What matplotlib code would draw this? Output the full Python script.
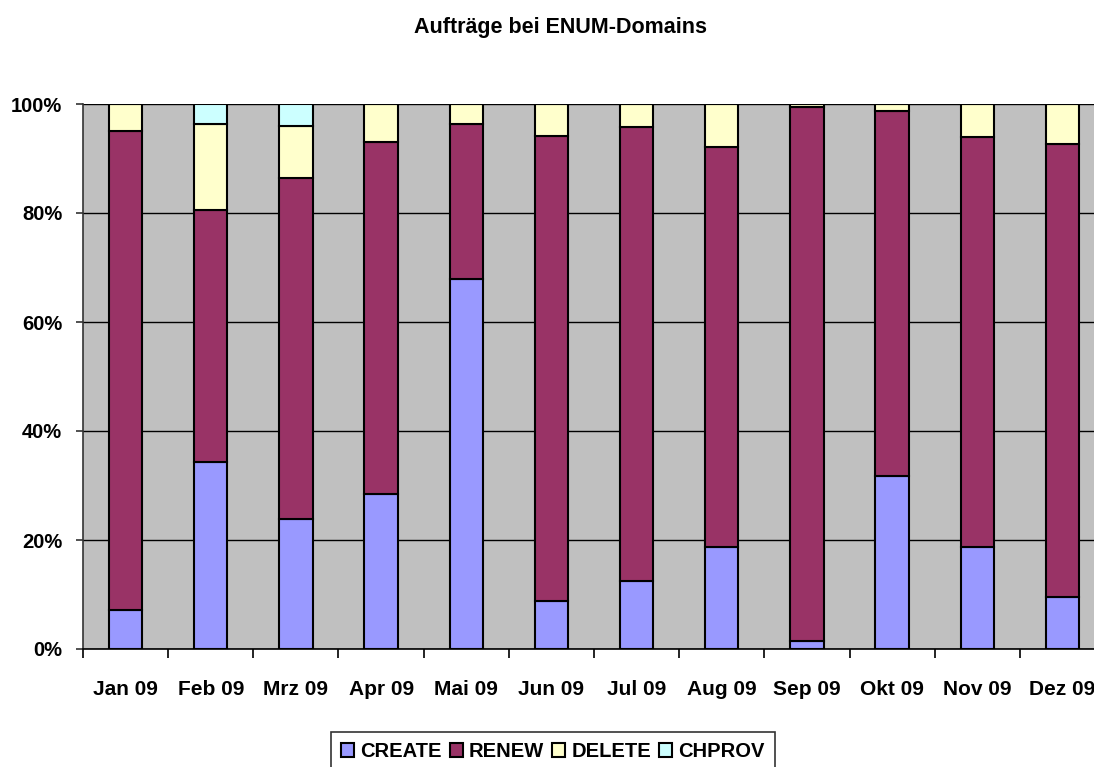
import matplotlib.pyplot as plt
import numpy as np
from matplotlib.ticker import FixedLocator, NullFormatter

plt.rcParams['font.family'] = ['Liberation Sans', 'DejaVu Sans']
plt.rcParams['font.weight'] = 'bold'

months = ['Jan 09', 'Feb 09', 'Mrz 09', 'Apr 09', 'Mai 09', 'Jun 09',
          'Jul 09', 'Aug 09', 'Sep 09', 'Okt 09', 'Nov 09', 'Dez 09']
# shares in percent
create = [7.2, 34.3, 23.8, 28.4, 67.9, 8.8, 12.4, 18.8, 1.5, 31.7, 18.8, 9.6]
renew = [87.9, 46.2, 62.7, 64.6, 28.4, 85.4, 83.3, 73.3, 97.9, 67.0, 75.1, 83.1]
delete = [4.9, 15.8, 9.5, 7.0, 3.7, 5.8, 4.3, 7.9, 0.6, 1.3, 6.1, 7.3]
chprov = [0, 3.7, 4.0, 0, 0, 0, 0, 0, 0, 0, 0, 0]

series = [('CREATE', create, '#9999FF'),
          ('RENEW', renew, '#993366'),
          ('DELETE', delete, '#FFFFCC'),
          ('CHPROV', chprov, '#CCFFFF')]

fig = plt.figure(figsize=(10.94, 7.67), dpi=100)
ax = fig.add_axes([83 / 1094, 118 / 767, 1022 / 1094, 545 / 767])
ax.set_facecolor('#C0C0C0')

x = np.arange(len(months))
bottom = np.zeros(len(months))
for name, vals, col in series:
    vals = np.array(vals, dtype=float)
    ax.bar(x, vals, 0.39, bottom=bottom, color=col, edgecolor='black',
           linewidth=1.5, label=name, zorder=3)
    bottom += vals

ax.set_xlim(-0.5, len(months) - 0.5)
ax.set_ylim(0, 100)
ax.set_yticks([0, 20, 40, 60, 80, 100])
ax.set_yticklabels(['0%', '20%', '40%', '60%', '80%', '100%'], fontsize=14.5, fontweight='bold')
ax.yaxis.grid(True, color='black', linewidth=1, zorder=1)
ax.set_axisbelow(True)

ax.set_xticks(x)
ax.set_xticklabels(months, fontsize=15, fontweight='bold')
ax.tick_params(axis='x', which='major', length=0, pad=22.5)
ax.xaxis.set_minor_locator(FixedLocator(np.arange(-0.5, len(months), 1)))
ax.xaxis.set_minor_formatter(NullFormatter())
ax.tick_params(axis='x', which='minor', length=6.5, width=1.2, color='black')
ax.tick_params(axis='y', length=5, width=1.2, pad=10, color='#333333')

for s in ['top', 'right']:
    ax.spines[s].set_visible(False)
ax.spines['bottom'].set_color('black')
ax.spines['bottom'].set_linewidth(1.2)
ax.spines['left'].set_color('#333333')
ax.spines['left'].set_linewidth(1.2)

fig.text(561 / 1094, 1 - 27 / 767, 'Aufträge bei ENUM-Domains', ha='center', va='center',
         fontsize=15.5, fontweight='bold')

leg = fig.legend(loc='upper center', bbox_to_anchor=(553 / 1094, 45 / 767), ncol=4,
                 frameon=True, fancybox=False, handlelength=0.65, handleheight=0.65,
                 handletextpad=0.3, columnspacing=0.4, borderpad=0.5,
                 prop={'size': 14.5, 'weight': 'bold'})
leg.get_frame().set_edgecolor('black')
leg.get_frame().set_linewidth(1.2)

fig.savefig('out.png', dpi=100)
